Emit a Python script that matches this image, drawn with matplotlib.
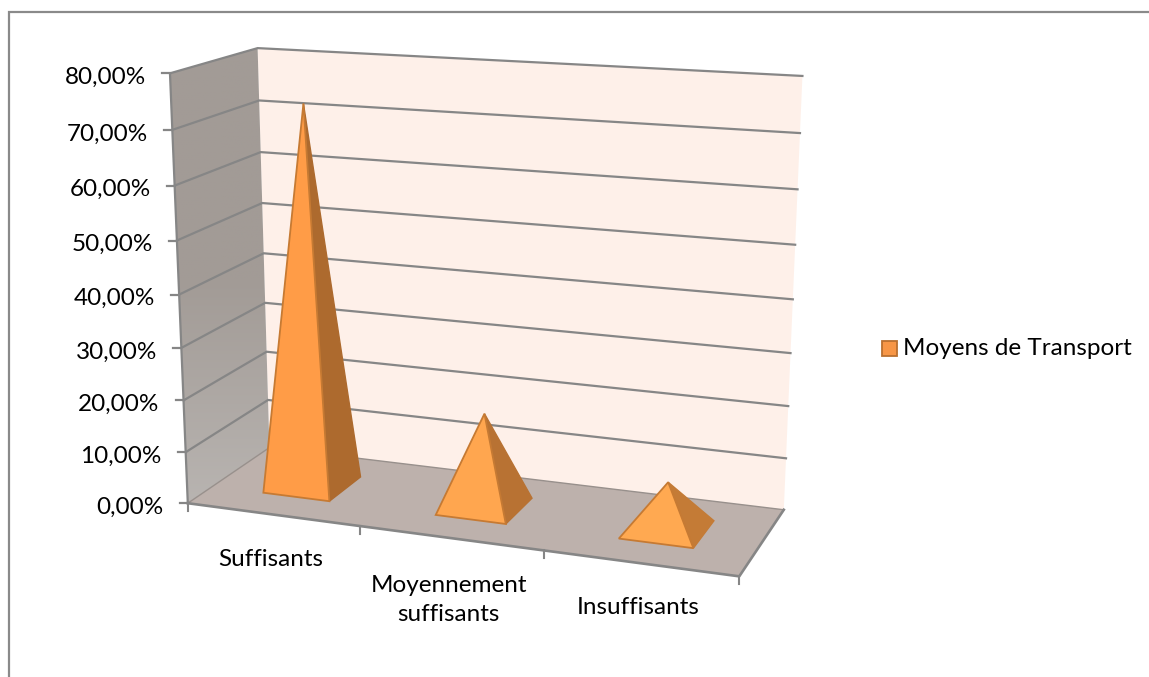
import matplotlib
matplotlib.use("Agg")
import matplotlib.pyplot as plt
from matplotlib.patches import Polygon, Rectangle
import numpy as np

categories = ["Suffisants", "Moyennement\nsuffisants", "Insuffisants"]
values = [73, 18, 9]
series_name = "Moyens de Transport"
value_ticks = [0, 10, 20, 30, 40, 50, 60, 70, 80]
tick_labels = ["0,00%", "10,00%", "20,00%", "30,00%", "40,00%", "50,00%", "60,00%", "70,00%", "80,00%"]

front_colors = ["#FF9C47", "#FFA64F", "#FFA951"]
side_colors = ["#AD6A2E", "#B87233", "#C47B36"]

plt.rcParams["font.family"] = ["Lato", "DejaVu Sans"]

# calibration of the 3d box: (category pos, value, depth) -> pixel
calib_3d = np.array([
    [0, 80, 0], [0, 70, 0], [0, 10, 0], [0, 0, 0],
    [0, 80, 1], [0, 70, 1], [0, 0, 1],
    [3, 80, 1], [3, 70, 1], [3, 60, 1], [3, 0, 1], [3, 0, 0],
], dtype=float)
calib_px = np.array([
    [170, 73], [172, 130], [186, 452], [188, 503],
    [258, 48], [259, 100.7], [269, 448],
    [802, 76], [800, 133], [798, 189.5], [784, 509], [739, 577],
], dtype=float)


def fit_camera(pts, px):
    rows = []
    rhs = []
    for (x, y, z), (u, v) in zip(pts, px):
        rows.append([x, y, z, 1, 0, 0, 0, 0, -u * x, -u * y, -u * z])
        rows.append([0, 0, 0, 0, x, y, z, 1, -v * x, -v * y, -v * z])
        rhs += [u, v]
    sol = np.linalg.lstsq(np.array(rows), np.array(rhs), rcond=None)[0]
    return np.append(sol, 1).reshape(3, 4)


camera = fit_camera(calib_3d, calib_px)


def project(x, y, z):
    p = camera @ np.array([x, y, z, 1.0])
    return p[0] / p[2], p[1] / p[2]


fig = plt.figure(figsize=(11.49, 6.77), dpi=100)
ax = fig.add_axes([0, 0, 1, 1])
ax.set_axis_off()

line_col = "#868686"
label_size = 17.5

# outer frame, only top and left are inside the picture
ax.plot([1149, 9, 9], [11.5, 11.5, 677], color="#8A8A8A", lw=1.6, solid_joinstyle="miter")

# walls
back_wall = [project(0, 0, 1), project(3, 0, 1), project(3, 80, 1), project(0, 80, 1)]
ax.add_patch(Polygon(back_wall, fc="#FEF0E9", ec="none"))
left_wall = [project(0, 0, 0), project(0, 0, 1), project(0, 80, 1), project(0, 80, 0)]
wall_patch = Polygon(left_wall, fc="none", ec="none")
ax.add_patch(wall_patch)
grad = np.linspace(0, 1, 256).reshape(-1, 1)
im = ax.imshow(grad, extent=(150, 290, 520, 40), aspect="auto", zorder=1,
               cmap=matplotlib.colors.LinearSegmentedColormap.from_list("wall", ["#A29B96", "#A29B96", "#BAB6B3"]))
im.set_clip_path(wall_patch)
floor = [project(0, 0, 0), project(3, 0, 0), project(3, 0, 1), project(0, 0, 1)]
ax.add_patch(Polygon(floor, fc="#BDB1AC", ec="none", zorder=1.5))

# grid lines on both walls
for v, lab in zip(value_ticks, tick_labels):
    fx, fy = project(0, v, 0)
    bx, by = project(0, v, 1)
    rx, ry = project(3, v, 1)
    if v > 0:
        ax.plot([fx, bx, rx], [fy, by, ry], color=line_col, lw=1.6, zorder=2, solid_joinstyle="miter")
    else:
        ax.plot([fx, bx, rx], [fy, by, ry], color="#98908C", lw=1.0, zorder=2)
    ax.plot([fx - 8, fx], [fy, fy], color=line_col, lw=1.6, zorder=2)
    ax.text(fx - 24, fy + 4, lab, ha="right", va="center", fontsize=label_size, color="#000000")

# axis edges
ax.plot(*zip(project(0, 0, 0), project(0, 80, 0)), color=line_col, lw=1.6, zorder=2)
ax.plot(*zip(project(0, 0, 0), project(3, 0, 0), project(3, 0, 1)), color=line_col, lw=1.9, zorder=2)
for i in range(4):
    tx, ty = project(i, 0, 0)
    ax.plot([tx, tx], [ty, ty + 8], color=line_col, lw=1.5, zorder=2)

# pyramids
half_w = 0.195
half_d = 0.21
for i, val in enumerate(values):
    xc = i + 0.5
    fl = project(xc - half_w, 0, 0.5 - half_d)
    fr = project(xc + half_w, 0, 0.5 - half_d)
    br = project(xc + half_w, 0, 0.5 + half_d)
    apex = project(xc, val, 0.5)
    ax.add_patch(Polygon([fr, br, apex], fc=side_colors[i], ec=side_colors[i], lw=1.0, zorder=3))
    ax.add_patch(Polygon([fl, fr, apex], fc=front_colors[i], ec="#C67A33", lw=1.3, zorder=4))

# category labels
label_y = [559, 600, 608]
for i, name in enumerate(categories):
    cx, cy = project(i + 0.5, 0, 0)
    ax.text(cx - 2, label_y[i], name, ha="center", va="center", fontsize=label_size,
            color="#000000", linespacing=1.45)

# legend
ax.add_patch(Rectangle((881.5, 340.5), 15, 15, fc="#F79646", ec="#B9702F", lw=1.3))
ax.text(903, 348.5, series_name, ha="left", va="center", fontsize=label_size, color="#000000")

ax.set_xlim(0, 1149)
ax.set_ylim(677, 0)

fig.savefig("out.png", dpi=100)
